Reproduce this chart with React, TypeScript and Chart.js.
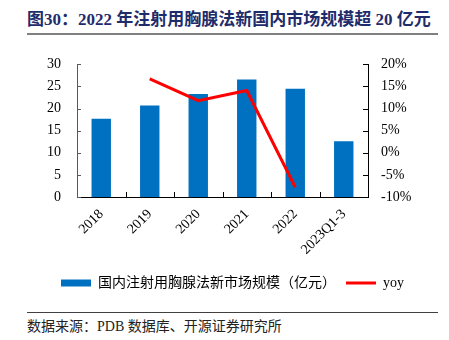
import React, { useEffect, useRef } from "react";
import { Chart, registerables } from "chart.js";

Chart.register(...registerables);

const categories = ["2018", "2019", "2020", "2021", "2022", "2023Q1-3"];
const marketSize = [17.7, 20.7, 23.3, 26.6, 24.5, 12.6];
const yoy = [null, 16.7, 11.8, 14.1, -7.8, null];
const leftTicks = [0, 5, 10, 15, 20, 25, 30];
const rightTicks = [-10, -5, 0, 5, 10, 15, 20];

const TITLE = "图30：2022 年注射用胸腺法新国内市场规模超 20 亿元";
const SOURCE = "数据来源：PDB 数据库、开源证券研究所";
const BAR_LABEL = "国内注射用胸腺法新市场规模（亿元）";
const LINE_LABEL = "yoy";

const FONT = "'Liberation Serif', 'Noto Sans CJK SC', serif";

const innerTicks = {
  id: "innerTicks",
  afterDraw(chart: any) {
    const { ctx, chartArea, scales } = chart;
    const { left, right, bottom } = chartArea;
    ctx.save();
    ctx.lineWidth = 1;
    ctx.strokeStyle = "#595959";
    ctx.beginPath();
    leftTicks.forEach((v) => {
      const py = Math.round(scales.y.getPixelForValue(v)) + 0.5;
      ctx.moveTo(left, py);
      ctx.lineTo(left + 4, py);
    });
    ctx.stroke();
    ctx.strokeStyle = "#000";
    ctx.beginPath();
    rightTicks.forEach((v) => {
      const py = Math.round(scales.y1.getPixelForValue(v)) + 0.5;
      ctx.moveTo(right - 5, py);
      ctx.lineTo(right, py);
    });
    for (let i = 1; i < categories.length; i++) {
      const px = Math.round(scales.x.getPixelForValue(i - 0.5)) + 0.5;
      ctx.moveTo(px, bottom);
      ctx.lineTo(px, bottom - 5);
    }
    ctx.stroke();
    ctx.restore();
  },
};

export default function App() {
  const ref = useRef<HTMLCanvasElement>(null);
  useEffect(() => {
    if (!ref.current) return;
    const chart = new Chart(ref.current, {
      type: "bar",
      data: {
        labels: categories,
        datasets: [
          {
            type: "bar",
            label: BAR_LABEL,
            data: marketSize,
            backgroundColor: "#0070C0",
            barPercentage: 0.4,
            categoryPercentage: 1,
            yAxisID: "y",
            order: 2,
            pointStyle: "rect",
          } as any,
          {
            type: "line",
            label: LINE_LABEL,
            data: yoy,
            borderColor: "#FF0000",
            backgroundColor: "#FF0000",
            borderWidth: 3,
            pointRadius: 0,
            yAxisID: "y1",
            order: 1,
            pointStyle: "line",
            spanGaps: false,
          } as any,
        ],
      },
      options: {
        responsive: false,
        animation: false,
        layout: { padding: { left: 16, right: 0, top: 20, bottom: 0 } },
        plugins: {
          tooltip: { enabled: false },
          legend: {
            position: "bottom",
            labels: {
              usePointStyle: true,
              pointStyleWidth: 30,
              boxHeight: 7,
              padding: 10,
              color: "#000",
              font: { family: FONT, size: 14 },
              sort: (a: any, b: any) => a.datasetIndex - b.datasetIndex,
            },
          },
        },
        scales: {
          x: {
            offset: true,
            grid: { display: false, drawTicks: false },
            border: { display: true, color: "#000", width: 1 },
            ticks: {
              maxRotation: 45,
              minRotation: 45,
              padding: 9,
              color: "#000",
              font: { family: FONT, size: 14 },
            },
            afterFit: (s: any) => {
              s.height = 69;
            },
          },
          y: {
            position: "left",
            min: 0,
            max: 30,
            grid: { display: false, drawTicks: false },
            border: { display: true, color: "#595959", width: 1 },
            afterBuildTicks: (s: any) => {
              s.ticks = leftTicks.map((v) => ({ value: v }));
            },
            ticks: {
              padding: 16,
              color: "#000",
              font: { family: FONT, size: 14 },
            },
            afterFit: (s: any) => {
              s.width = 61;
            },
          },
          y1: {
            position: "right",
            min: -10,
            max: 20,
            grid: { display: false, drawTicks: false },
            border: { display: true, color: "#000", width: 1 },
            afterBuildTicks: (s: any) => {
              s.ticks = rightTicks.map((v) => ({ value: v }));
            },
            ticks: {
              padding: 13,
              color: "#000",
              font: { family: FONT, size: 14 },
              callback: (v: any) => `${v}%`,
            },
            afterFit: (s: any) => {
              s.width = 81;
            },
          },
        },
      },
      plugins: [innerTicks],
    });
    return () => chart.destroy();
  }, []);

  return (
    <div
      style={{
        position: "absolute",
        left: 0,
        top: 0,
        width: 449,
        height: 340,
        background: "#fff",
        overflow: "hidden",
      }}
    >
      <div
        style={{
          position: "absolute",
          left: 27,
          top: 10,
          height: 20,
          lineHeight: "20px",
          fontFamily: FONT,
          fontWeight: "bold",
          fontSize: 17,
          color: "#1f2c6b",
          whiteSpace: "nowrap",
        }}
      >
        {TITLE}
      </div>
      <div
        style={{
          position: "absolute",
          left: 27,
          top: 33,
          width: 411,
          height: 2,
          background: "#808080",
        }}
      />
      <canvas
        ref={ref}
        width={449}
        height={260}
        style={{ position: "absolute", left: 0, top: 40, width: 449, height: 260 }}
      />
      <div
        style={{
          position: "absolute",
          left: 27,
          top: 312,
          width: 411,
          height: 1,
          background: "#404040",
        }}
      />
      <div
        style={{
          position: "absolute",
          left: 27,
          top: 317,
          height: 20,
          lineHeight: "20px",
          fontFamily: FONT,
          fontSize: 14,
          color: "#222",
          whiteSpace: "nowrap",
        }}
      >
        {SOURCE}
      </div>
    </div>
  );
}
